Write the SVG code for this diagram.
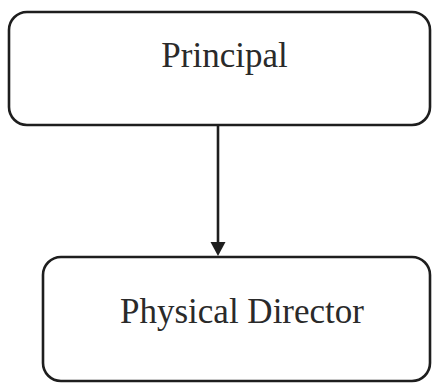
<svg xmlns="http://www.w3.org/2000/svg" width="432" height="383" viewBox="0 0 432 383">
<style>
.box{fill:#fff;stroke:#1e1e1e;stroke-width:2.6}
.lbl{font-family:"Liberation Serif","Times New Roman",serif;font-size:35px;fill:#2a2a2a;text-anchor:middle}
.conn{stroke:#1e1e1e;stroke-width:2.6;fill:none}
.head{fill:#1e1e1e}
</style>
<rect width="432" height="383" fill="#fff"/>
<g id="principal">
<rect class="box" x="9" y="12" width="421" height="113" rx="18"/>
<text class="lbl" x="224.5" y="67">Principal</text>
</g>
<g id="physical-director">
<rect class="box" x="43" y="257" width="387" height="124" rx="18"/>
<text class="lbl" x="242" y="323">Physical Director</text>
</g>
<g id="connectors">
<line class="conn" x1="218" y1="125" x2="218" y2="243"/>
<path class="head" d="M210.5,242 L225.5,242 L218,256 Z"/>
</g>
</svg>
